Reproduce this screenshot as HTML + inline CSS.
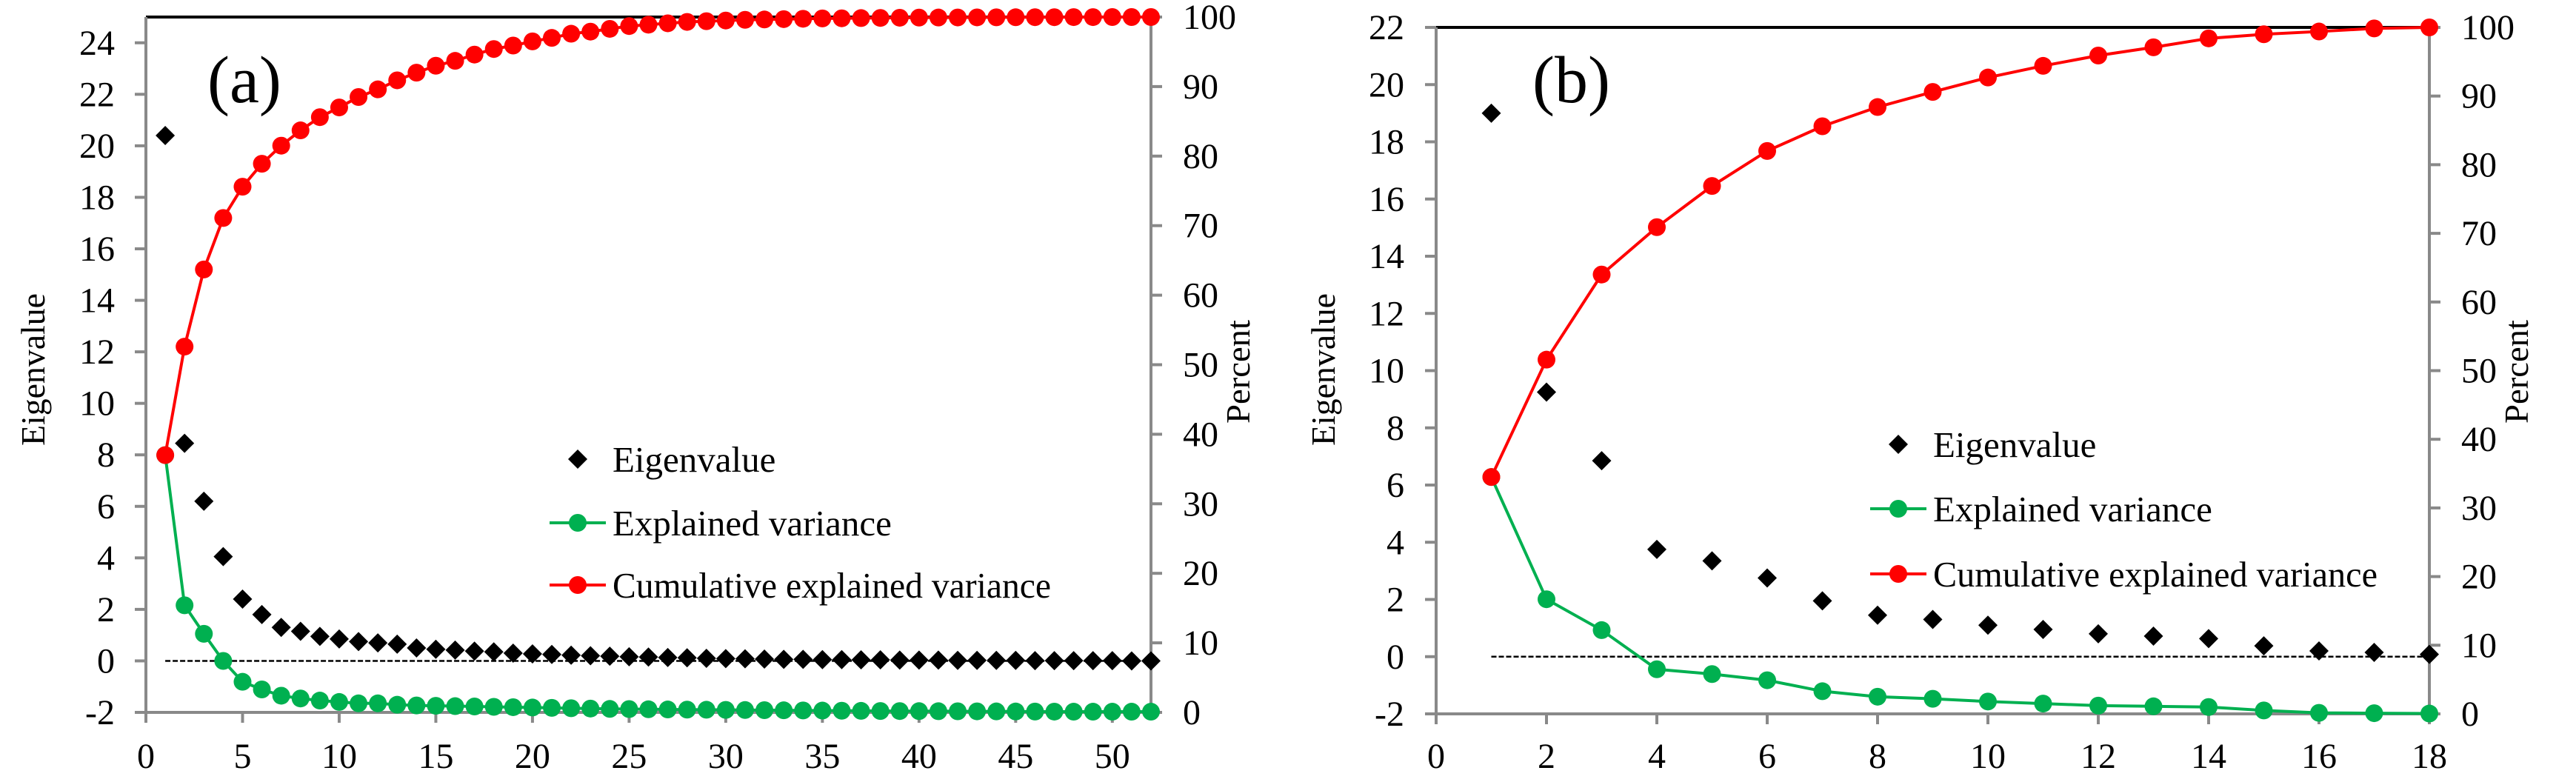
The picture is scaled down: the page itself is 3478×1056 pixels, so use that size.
<!DOCTYPE html>
<html><head><meta charset="utf-8"><style>
html,body{margin:0;padding:0;background:#fff;}
svg{display:block;}
svg text{font-family:"Liberation Serif","Times New Roman",serif;}
</style></head>
<body>
<svg id="fig" width="3478" height="1056" viewBox="0 0 3478 1056" xmlns="http://www.w3.org/2000/svg" font-family="Liberation Serif, serif"></svg>
<script>
// ---- chart (a) data ----
const aComponents = Array.from({length:52},(_,i)=>i+1);
const aEigen = [20.4,8.45,6.2,4.05,2.4,1.8,1.3,1.15,0.95,0.85,0.75,0.7,0.65,0.5,0.45,0.42,0.38,0.35,0.3,0.27,0.25,0.22,0.2,0.18,0.16,0.15,0.13,0.12,0.1,0.09,0.08,0.07,0.06,0.06,0.05,0.05,0.04,0.04,0.03,0.03,0.03,0.02,0.02,0.02,0.02,0.01,0.01,0.01,0.01,0.01,0.0,0.0];
const aExplained = [37,15.4,11.3,7.4,4.4,3.3,2.4,2.0,1.7,1.5,1.3,1.3,1.1,1.0,0.95,0.9,0.85,0.8,0.75,0.7,0.65,0.6,0.55,0.5,0.48,0.45,0.42,0.4,0.38,0.36,0.34,0.32,0.3,0.28,0.26,0.24,0.22,0.2,0.19,0.18,0.17,0.16,0.15,0.14,0.13,0.12,0.11,0.1,0.1,0.1,0.1,0.1];
const aCumulative = [37,52.6,63.7,71.1,75.6,78.9,81.5,83.7,85.6,87,88.5,89.6,90.9,92,93,93.7,94.6,95.4,95.9,96.5,97,97.6,97.9,98.3,98.7,98.9,99.1,99.3,99.4,99.5,99.6,99.65,99.7,99.75,99.8,99.82,99.85,99.87,99.9,99.92,99.93,99.94,99.95,99.96,99.97,99.98,99.98,99.99,99.99,100,100,100];
const aXTicks = [0,5,10,15,20,25,30,35,40,45,50];
const aYTicks = [-2,0,2,4,6,8,10,12,14,16,18,20,22,24];
const aPTicks = [0,10,20,30,40,50,60,70,80,90,100];
// ---- chart (b) data ----
const bComponents = Array.from({length:18},(_,i)=>i+1);
const bEigen = [19.0,9.25,6.85,3.75,3.35,2.75,1.95,1.45,1.3,1.1,0.95,0.8,0.72,0.63,0.38,0.2,0.15,0.08];
const bExplained = [34.5,16.7,12.2,6.5,5.8,4.9,3.3,2.5,2.2,1.8,1.5,1.2,1.1,1.0,0.5,0.15,0.1,0.05];
const bCumulative = [34.5,51.6,64,70.9,76.9,82,85.6,88.4,90.6,92.7,94.4,95.9,97.1,98.4,99,99.4,99.85,100];
const bXTicks = [0,2,4,6,8,10,12,14,16,18];
const bYTicks = [-2,0,2,4,6,8,10,12,14,16,18,20,22];
const bPTicks = [0,10,20,30,40,50,60,70,80,90,100];

const NS="http://www.w3.org/2000/svg";
const svg=document.getElementById('fig');
const FONT='Liberation Serif, Times New Roman, serif';
function el(tag,attrs,parent,text){const e=document.createElementNS(NS,tag);for(const k in attrs)e.setAttribute(k,attrs[k]);if(tag==='text')e.setAttribute('font-family',FONT);if(text!==undefined)e.textContent=text;(parent||svg).appendChild(e);return e;}

function chart(cfg){
  const g=el('g',{});
  
  
  const X=v=>cfg.L+(v-cfg.xmin)/(cfg.xmax-cfg.xmin)*(cfg.R-cfg.L);
  const Y=v=>cfg.B-(v-cfg.ymin)/(cfg.ymax-cfg.ymin)*(cfg.B-cfg.T);
  const P=v=>cfg.B-v/100*(cfg.B-cfg.T);
  const gray='#898989';
  const tb=el('line',{x1:cfg.L,y1:cfg.T,x2:cfg.R,y2:cfg.T,stroke:'#000','stroke-width':4},g);
  
  
  const la=el('line',{x1:cfg.L,y1:cfg.T,x2:cfg.L,y2:cfg.B+2,stroke:gray,'stroke-width':4},g);
  
  
  const ra=el('line',{x1:cfg.R,y1:cfg.T,x2:cfg.R,y2:cfg.B+2,stroke:gray,'stroke-width':4},g);
  
  
  const xa=el('line',{x1:cfg.L-15,y1:cfg.B,x2:cfg.R,y2:cfg.B,stroke:gray,'stroke-width':4},g);
  
  
  cfg.yTicks.forEach(v=>{
    const y=Y(v);
    el('line',{x1:cfg.L-15,y1:y,x2:cfg.L,y2:y,stroke:gray,'stroke-width':4},g);
    const t=el('text',{x:cfg.ylabRight,y:y+16,'font-size':48,'text-anchor':'end',fill:'#000'},g,String(v));
    
    
  });
  cfg.pTicks.forEach(v=>{
    const y=P(v);
    el('line',{x1:cfg.R,y1:y,x2:cfg.R+15,y2:y,stroke:gray,'stroke-width':4},g);
    const t=el('text',{x:cfg.R+43,y:y+16,'font-size':48,fill:'#000'},g,String(v));
    
    
  });
  cfg.xTicks.forEach(v=>{
    const x=X(v);
    el('line',{x1:x,y1:cfg.B,x2:x,y2:cfg.B+14,stroke:gray,'stroke-width':4},g);
    const t=el('text',{x:x,y:1037,'font-size':48,'text-anchor':'middle',fill:'#000'},g,String(v));
    
    
  });
  const yt=el('text',{x:0,y:0,'font-size':46,'text-anchor':'middle',textLength:206,lengthAdjust:'spacingAndGlyphs',transform:`translate(${cfg.L-137},${499}) rotate(-90)`},g,'Eigenvalue');
  
  
  const pt=el('text',{x:0,y:0,'font-size':46,'text-anchor':'middle',textLength:140,lengthAdjust:'spacingAndGlyphs',transform:`translate(${cfg.R+133},${502}) rotate(-90)`},g,'Percent');
  
  
  const pl=el('text',{x:cfg.panelX,y:138,'font-size':90,fill:'#000'},g,cfg.panel);
  
  
  const zl=el('line',{x1:X(cfg.cats[0]),y1:Y(0),x2:X(cfg.cats[cfg.cats.length-1]),y2:Y(0),stroke:'#000','stroke-width':2.5,'stroke-dasharray':'7,3'},g);
  
  
  const gp=cfg.cats.map((c,i)=>X(c)+','+P(cfg.expl[i])).join(' ');
  const gl=el('polyline',{points:gp,fill:'none',stroke:'#00b050','stroke-width':4},g);
  
  
  const rp=cfg.cats.map((c,i)=>X(c)+','+P(cfg.cum[i])).join(' ');
  const rl=el('polyline',{points:rp,fill:'none',stroke:'#ff0000','stroke-width':4},g);
  
  
  cfg.cats.forEach((c,i)=>{
    const m=el('circle',{cx:X(c),cy:P(cfg.expl[i]),r:12,fill:'#00b050'},g);
    
    
  });
  cfg.cats.forEach((c,i)=>{
    const m=el('circle',{cx:X(c),cy:P(cfg.cum[i]),r:12,fill:'#ff0000'},g);
    
    
  });
  cfg.cats.forEach((c,i)=>{
    const x=X(c),y=Y(cfg.eig[i]),d=13;
    const m=el('polygon',{points:`${x},${y-d} ${x+d},${y} ${x},${y+d} ${x-d},${y}`,fill:'#000'},g);
    
    
  });
  const lg=el('g',{},g);
  
  
  const lx=cfg.legX, ty=cfg.legY;
  const d=13;
  el('polygon',{points:`${lx+38},${ty[0]-d} ${lx+38+d},${ty[0]} ${lx+38},${ty[0]+d} ${lx+38-d},${ty[0]}`,fill:'#000'},lg);
  const t1=el('text',{x:lx+85,y:ty[0]+17,'font-size':49},lg,'Eigenvalue');
  
  
  el('line',{x1:lx,y1:ty[1],x2:lx+76,y2:ty[1],stroke:'#00b050','stroke-width':4},lg);
  el('circle',{cx:lx+38,cy:ty[1],r:12,fill:'#00b050'},lg);
  const t2=el('text',{x:lx+85,y:ty[1]+17,'font-size':49},lg,'Explained variance');
  
  
  el('line',{x1:lx,y1:ty[2],x2:lx+76,y2:ty[2],stroke:'#ff0000','stroke-width':4},lg);
  el('circle',{cx:lx+38,cy:ty[2],r:12,fill:'#ff0000'},lg);
  const t3=el('text',{x:lx+85,y:ty[2]+17,'font-size':49,textLength:cfg.legLen,lengthAdjust:'spacingAndGlyphs'},lg,'Cumulative explained variance');
  
  
}

chart({name:'chart-a',L:197,R:1554,T:23,B:962,xmin:0,xmax:52,ymin:-2,ymax:25,
  cats:aComponents,eig:aEigen,expl:aExplained,cum:aCumulative,xTicks:aXTicks,yTicks:aYTicks,pTicks:aPTicks,
  ylabRight:155,panel:'(a)',panelX:280,legX:742,legY:[620,706,790],legLen:592});
chart({name:'chart-b',L:1939,R:3280,T:37,B:964,xmin:0,xmax:18,ymin:-2,ymax:22,
  cats:bComponents,eig:bEigen,expl:bExplained,cum:bCumulative,xTicks:bXTicks,yTicks:bYTicks,pTicks:bPTicks,
  ylabRight:1896,panel:'(b)',panelX:2069,legX:2525,legY:[600,687,775],legLen:600});
</script>
</body></html>
